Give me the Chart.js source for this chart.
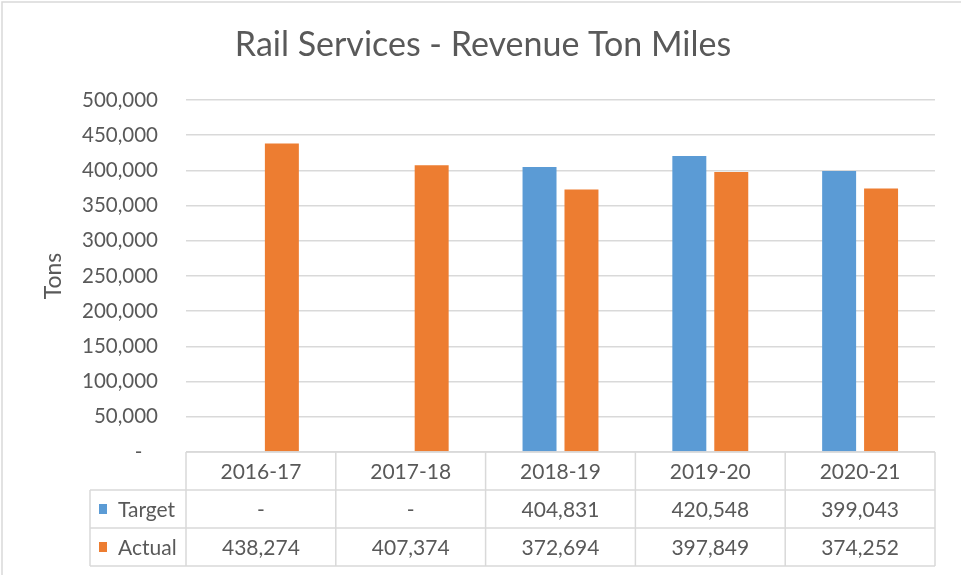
<!DOCTYPE html>
<html>
<head>
<meta charset="utf-8">
<script src="https://cdn.jsdelivr.net/npm/chart.js@4"></script>
<style>
  html, body { margin: 0; padding: 0; background: #fff; }
  #wrap { width: 961px; height: 575px; }
</style>
</head>
<body>
<div id="wrap"><canvas id="railChart" width="961" height="575"></canvas></div>
<script>
var years = ['2016-17', '2017-18', '2018-19', '2019-20', '2020-21'];
var targetTons = [null, null, 404831, 420548, 399043];
var actualTons = [438274, 407374, 372694, 397849, 374252];
var chartTitle = 'Rail Services - Revenue Ton Miles';

var FONT = 'Lato';
var TEXT = '#595959';
var LINE = '#d9d9d9';

function fmt(v) {
  return v == null ? '-' : v.toLocaleString('en-US');
}

// title + left/top frame + data table under the plot
var tablePlugin = {
  id: 'tablePlugin',
  afterDraw: function (chart) {
    var ctx = chart.ctx;
    var area = chart.chartArea;
    var x = chart.scales.x;
    var rowH = 38;
    var legendLeft = 90;
    var rows = [area.bottom, area.bottom + rowH, area.bottom + rowH * 2, area.bottom + rowH * 3];

    ctx.save();
    // frame
    ctx.strokeStyle = LINE;
    ctx.lineWidth = 1.5;
    ctx.beginPath();
    ctx.moveTo(2, chart.height);
    ctx.lineTo(2, 2);
    ctx.lineTo(chart.width, 2);
    ctx.stroke();

    // title
    ctx.fillStyle = TEXT;
    ctx.font = '34px ' + FONT;
    ctx.textAlign = 'center';
    ctx.textBaseline = 'alphabetic';
    ctx.fillText(chartTitle, 483, 56);

    // table grid
    ctx.lineWidth = 1.5;
    ctx.beginPath();
    ctx.moveTo(area.left, rows[0]);
    ctx.lineTo(area.right, rows[0]);
    for (var r = 1; r < rows.length; r++) {
      ctx.moveTo(legendLeft, rows[r]);
      ctx.lineTo(area.right, rows[r]);
    }
    ctx.moveTo(legendLeft, rows[1]);
    ctx.lineTo(legendLeft, rows[3]);
    var step = (area.right - area.left) / years.length;
    for (var i = 0; i <= years.length; i++) {
      var cx = area.left + step * i;
      ctx.moveTo(cx, rows[0]);
      ctx.lineTo(cx, rows[3]);
    }
    ctx.stroke();

    // cells
    ctx.font = '21px ' + FONT;
    ctx.textBaseline = 'middle';
    ctx.textAlign = 'center';
    ctx.fillStyle = TEXT;
    years.forEach(function (y, idx) {
      var px = x.getPixelForValue(idx);
      ctx.fillText(y, px, rows[0] + rowH / 2 + 1);
      chart.data.datasets.forEach(function (ds, d) {
        ctx.fillText(fmt(ds.data[idx]), px, rows[d + 1] + rowH / 2 + 1);
      });
    });

    // row labels with legend keys
    ctx.textAlign = 'left';
    chart.data.datasets.forEach(function (ds, d) {
      var cy = rows[d + 1] + rowH / 2;
      ctx.fillStyle = ds.backgroundColor;
      ctx.fillRect(99, cy - 5, 8, 10);
      ctx.fillStyle = TEXT;
      ctx.fillText(ds.label, 118, cy + 1);
    });
    ctx.restore();
  }
};

new Chart(document.getElementById('railChart'), {
  type: 'bar',
  data: {
    labels: years,
    datasets: [
      {
        label: 'Target',
        data: targetTons,
        backgroundColor: '#5b9bd5',
        categoryPercentage: 0.56,
        barPercentage: 0.81,
      },
      {
        label: 'Actual',
        data: actualTons,
        backgroundColor: '#ed7d31',
        categoryPercentage: 0.56,
        barPercentage: 0.81,
      },
    ]
  },
  plugins: [tablePlugin],
  options: {
    responsive: false,
    animation: false,
    layout: {
      padding: { left: 0, top: 100, right: 26, bottom: 123 }
    },
    plugins: {
      legend: { display: false },
      title: { display: false },
      tooltip: { enabled: false },
    },
    scales: {
      x: {
        display: false,
      },
      y: {
        min: 0,
        max: 500000,
        afterFit: function (scale) { scale.width = 186; },
        border: { display: false },
        grid: { color: LINE, lineWidth: 1.5, drawTicks: false },
        ticks: {
          stepSize: 50000,
          padding: 28,
          color: TEXT,
          font: { family: FONT, size: 20.5 },
          callback: function (v) { return v === 0 ? '-   ' : v.toLocaleString('en-US'); }
        },
        title: {
          display: true,
          text: 'Tons',
          color: TEXT,
          font: { family: FONT, size: 23 },
          padding: { top: 40, bottom: 0 },
        }
      }
    }
  }
});
</script>
</body>
</html>
